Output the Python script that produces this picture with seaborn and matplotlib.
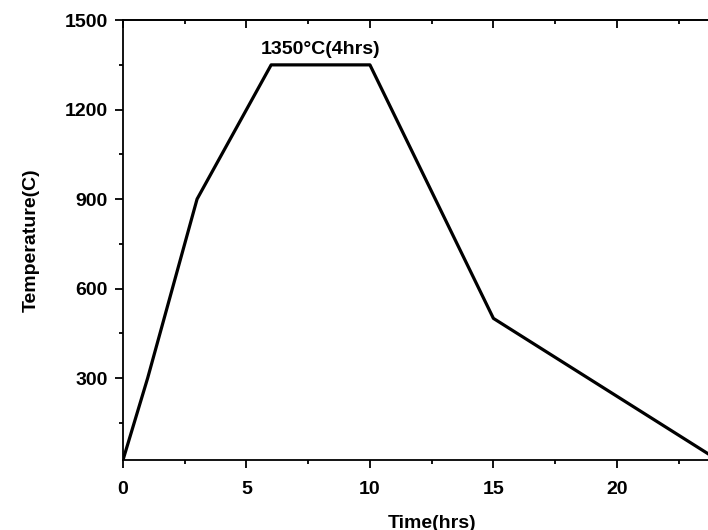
import numpy as np
import pandas as pd
import matplotlib
matplotlib.use('Agg')
import matplotlib.pyplot as plt
import seaborn as sns
from matplotlib.ticker import MultipleLocator, FixedLocator

# heating profile
time_hrs = [0, 1, 3, 6, 10, 15, 24]
temp_c = [25, 300, 900, 1350, 1350, 500, 30]
x_ticks = [0, 5, 10, 15, 20]
y_ticks = [300, 600, 900, 1200, 1500]

df = pd.DataFrame({'Time(hrs)': time_hrs, 'Temperature(C)': temp_c})

sns.set_style('ticks')
plt.rcParams['font.family'] = ['Liberation Sans', 'DejaVu Sans']
plt.rcParams['font.weight'] = 'bold'
plt.rcParams['text.color'] = 'black'
plt.rcParams['axes.labelcolor'] = 'black'
plt.rcParams['xtick.color'] = 'black'
plt.rcParams['ytick.color'] = 'black'

fig = plt.figure(figsize=(7.08, 5.30), dpi=100)
ax = fig.add_axes([0.1737, 0.132, 0.872, 0.830])

sns.lineplot(data=df, x='Time(hrs)', y='Temperature(C)', color='black',
             linewidth=2.3, ax=ax, sort=False)

ax.set_xlim(0, 25)
ax.set_ylim(25, 1500)
ax.xaxis.set_major_locator(FixedLocator(x_ticks))
ax.xaxis.set_minor_locator(MultipleLocator(2.5))
ax.yaxis.set_major_locator(FixedLocator(y_ticks))
ax.yaxis.set_minor_locator(MultipleLocator(150))

ax.tick_params(axis='both', which='major', direction='out', length=6, width=1.3,
               labelsize=14, color='black', labelcolor='black')
ax.tick_params(axis='x', which='major', pad=9)
ax.tick_params(axis='y', which='major', pad=5)
ax.tick_params(axis='both', which='minor', direction='out', length=3, width=1.3)
ax.tick_params(axis='x', which='both', top=False)
for lbl in ax.get_xticklabels() + ax.get_yticklabels():
    lbl.set_fontweight('bold')

# top ticks point inward
sec = ax.secondary_xaxis('top')
sec.xaxis.set_major_locator(MultipleLocator(5))
sec.xaxis.set_minor_locator(MultipleLocator(2.5))
sec.tick_params(which='major', direction='in', length=6, width=1.3, labeltop=False)
sec.tick_params(which='minor', direction='in', length=3, width=1.3)
sec.spines['top'].set_linewidth(1.3)

for s in ax.spines.values():
    s.set_linewidth(1.3)
    s.set_color('black')

ax.set_xlabel('Time(hrs)', fontsize=14, fontweight='bold', labelpad=12)
ax.set_ylabel('Temperature(C)', fontsize=14, fontweight='bold', labelpad=18)

ax.text(8, 1372, '1350°C(4hrs)', ha='center', va='bottom', fontsize=14, fontweight='bold')

fig.savefig('out.png', dpi=100)
